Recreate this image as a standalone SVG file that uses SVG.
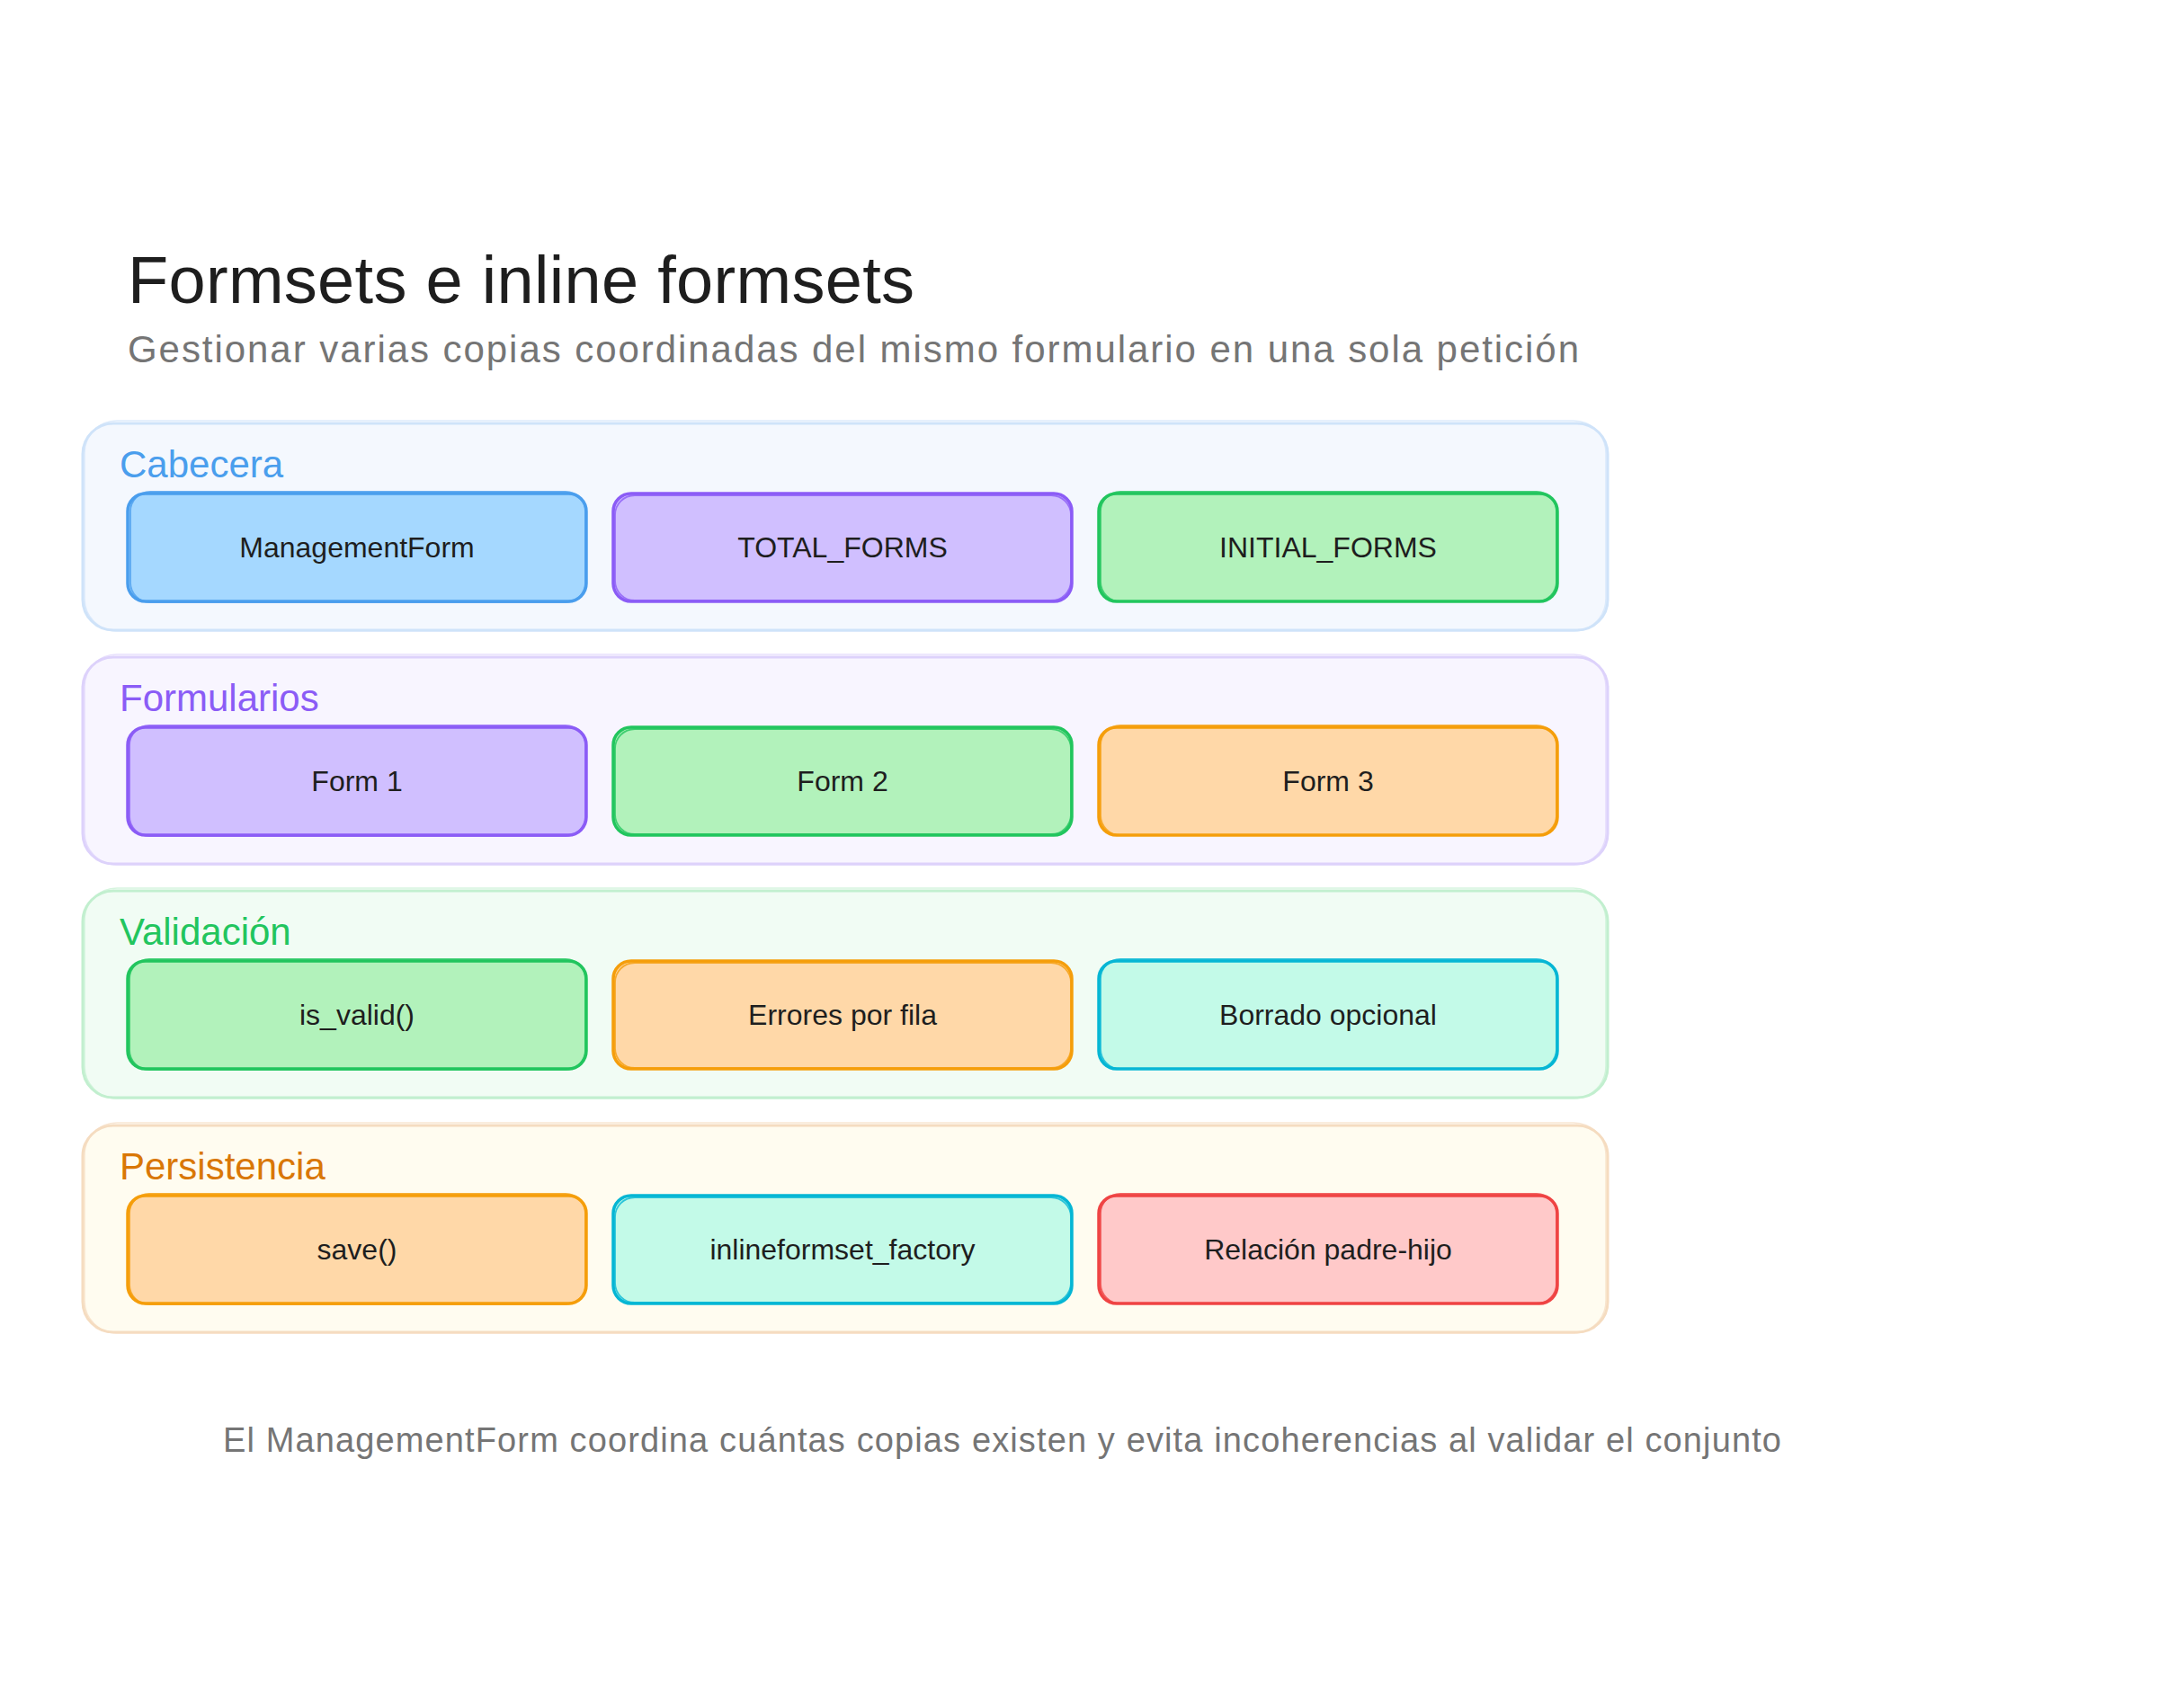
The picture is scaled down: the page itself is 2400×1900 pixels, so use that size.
<svg xmlns="http://www.w3.org/2000/svg" width="2400" height="1900" viewBox="0 0 2400 1900">
  <style>
    text { font-family: "Liberation Sans", "Noto Sans", sans-serif; }
    .title { font-size: 74px; fill: #1e1e1e; }
    .subtitle { font-size: 42px; fill: #757575; }
    .footer { font-size: 38px; fill: #757575; }
    .glabel { font-size: 42px; }
    .nlabel { font-size: 32px; fill: #1e1e1e; text-anchor: middle; }
    .grp { stroke-width: 3; }
    .grp2 { fill: none; stroke-width: 1.5; opacity: 0.7; }
    .node { stroke-width: 3.5; }
    .node2 { fill: none; stroke-width: 1.8; opacity: 0.8; }
    .blue { fill: #a5d8ff; stroke: #4a9eed; }
    .violet { fill: #d0bfff; stroke: #8b5cf6; }
    .green { fill: #b2f2bb; stroke: #22c55e; }
    .orange { fill: #ffd8a8; stroke: #f59e0b; }
    .cyan { fill: #c3fae8; stroke: #06b6d4; }
    .red { fill: #ffc9c9; stroke: #ef4444; }
  </style>
  <rect width="2400" height="1900" fill="#ffffff"/>

  <text class="title" x="142" y="337" textLength="875">Formsets e inline formsets</text>
  <text class="subtitle" x="142" y="403" textLength="1614">Gestionar varias copias coordinadas del mismo formulario en una sola petición</text>

  <g id="group-cabecera">
    <rect class="grp" x="92" y="471" width="1696" height="230" rx="34" fill="#f4f8fe" stroke="#cfe3f9"/>
    <rect class="grp2" x="94" y="468" width="1692" height="234" rx="36" stroke="#cfe3f9"/>
    <text class="glabel" x="133" y="531" fill="#4a9eed">Cabecera</text>
  </g>
  <g id="node-managementform">
    <rect class="node blue" x="142" y="549" width="510" height="120" rx="20"/>
    <rect class="node2" x="145" y="547" width="506" height="123" rx="22" stroke="#4a9eed"/>
    <text class="nlabel" x="397" y="620">ManagementForm</text>
  </g>
  <g id="node-total-forms">
    <rect class="node violet" x="682" y="549" width="510" height="120" rx="20"/>
    <rect class="node2" x="684" y="551" width="507" height="117" rx="22" stroke="#8b5cf6"/>
    <text class="nlabel" x="937" y="620">TOTAL_FORMS</text>
  </g>
  <g id="node-initial-forms">
    <rect class="node green" x="1222" y="549" width="510" height="120" rx="20"/>
    <rect class="node2" x="1224" y="547" width="507" height="122" rx="22" stroke="#22c55e"/>
    <text class="nlabel" x="1477" y="620">INITIAL_FORMS</text>
  </g>

  <g id="group-formularios">
    <rect class="grp" x="92" y="731" width="1696" height="230" rx="34" fill="#f8f5ff" stroke="#ddd2fb"/>
    <rect class="grp2" x="94" y="728" width="1692" height="234" rx="36" stroke="#ddd2fb"/>
    <text class="glabel" x="133" y="791" fill="#8b5cf6">Formularios</text>
  </g>
  <g id="node-form1">
    <rect class="node violet" x="142" y="809" width="510" height="120" rx="20"/>
    <rect class="node2" x="144" y="807" width="507" height="123" rx="22" stroke="#8b5cf6"/>
    <text class="nlabel" x="397" y="880">Form 1</text>
  </g>
  <g id="node-form2">
    <rect class="node green" x="682" y="809" width="510" height="120" rx="20"/>
    <rect class="node2" x="684" y="811" width="507" height="117" rx="22" stroke="#22c55e"/>
    <text class="nlabel" x="937" y="880">Form 2</text>
  </g>
  <g id="node-form3">
    <rect class="node orange" x="1222" y="809" width="510" height="120" rx="20"/>
    <rect class="node2" x="1224" y="807" width="507" height="122" rx="22" stroke="#f59e0b"/>
    <text class="nlabel" x="1477" y="880">Form 3</text>
  </g>

  <g id="group-validacion">
    <rect class="grp" x="92" y="991" width="1696" height="230" rx="34" fill="#f1fcf4" stroke="#c2efcf"/>
    <rect class="grp2" x="94" y="988" width="1692" height="234" rx="36" stroke="#c2efcf"/>
    <text class="glabel" x="133" y="1051" fill="#22c55e">Validación</text>
  </g>
  <g id="node-is-valid">
    <rect class="node green" x="142" y="1069" width="510" height="120" rx="20"/>
    <rect class="node2" x="144" y="1067" width="507" height="123" rx="22" stroke="#22c55e"/>
    <text class="nlabel" x="397" y="1140">is_valid()</text>
  </g>
  <g id="node-errores">
    <rect class="node orange" x="682" y="1069" width="510" height="120" rx="20"/>
    <rect class="node2" x="684" y="1071" width="507" height="117" rx="22" stroke="#f59e0b"/>
    <text class="nlabel" x="937" y="1140">Errores por fila</text>
  </g>
  <g id="node-borrado">
    <rect class="node cyan" x="1222" y="1069" width="510" height="120" rx="20"/>
    <rect class="node2" x="1224" y="1067" width="507" height="122" rx="22" stroke="#06b6d4"/>
    <text class="nlabel" x="1477" y="1140">Borrado opcional</text>
  </g>

  <g id="group-persistencia">
    <rect class="grp" x="92" y="1252" width="1696" height="230" rx="34" fill="#fffcf0" stroke="#f5dcc0"/>
    <rect class="grp2" x="94" y="1249" width="1692" height="234" rx="36" stroke="#f5dcc0"/>
    <text class="glabel" x="133" y="1312" fill="#d97706">Persistencia</text>
  </g>
  <g id="node-save">
    <rect class="node orange" x="142" y="1330" width="510" height="120" rx="20"/>
    <rect class="node2" x="144" y="1328" width="507" height="123" rx="22" stroke="#f59e0b"/>
    <text class="nlabel" x="397" y="1401">save()</text>
  </g>
  <g id="node-inlineformset-factory">
    <rect class="node cyan" x="682" y="1330" width="510" height="120" rx="20"/>
    <rect class="node2" x="684" y="1332" width="507" height="117" rx="22" stroke="#06b6d4"/>
    <text class="nlabel" x="937" y="1401">inlineformset_factory</text>
  </g>
  <g id="node-relacion">
    <rect class="node red" x="1222" y="1330" width="510" height="120" rx="20"/>
    <rect class="node2" x="1224" y="1328" width="507" height="122" rx="22" stroke="#ef4444"/>
    <text class="nlabel" x="1477" y="1401">Relación padre-hijo</text>
  </g>

  <g id="connectors"></g>

  <text class="footer" x="248" y="1615" textLength="1733">El ManagementForm coordina cuántas copias existen y evita incoherencias al validar el conjunto</text>
</svg>
